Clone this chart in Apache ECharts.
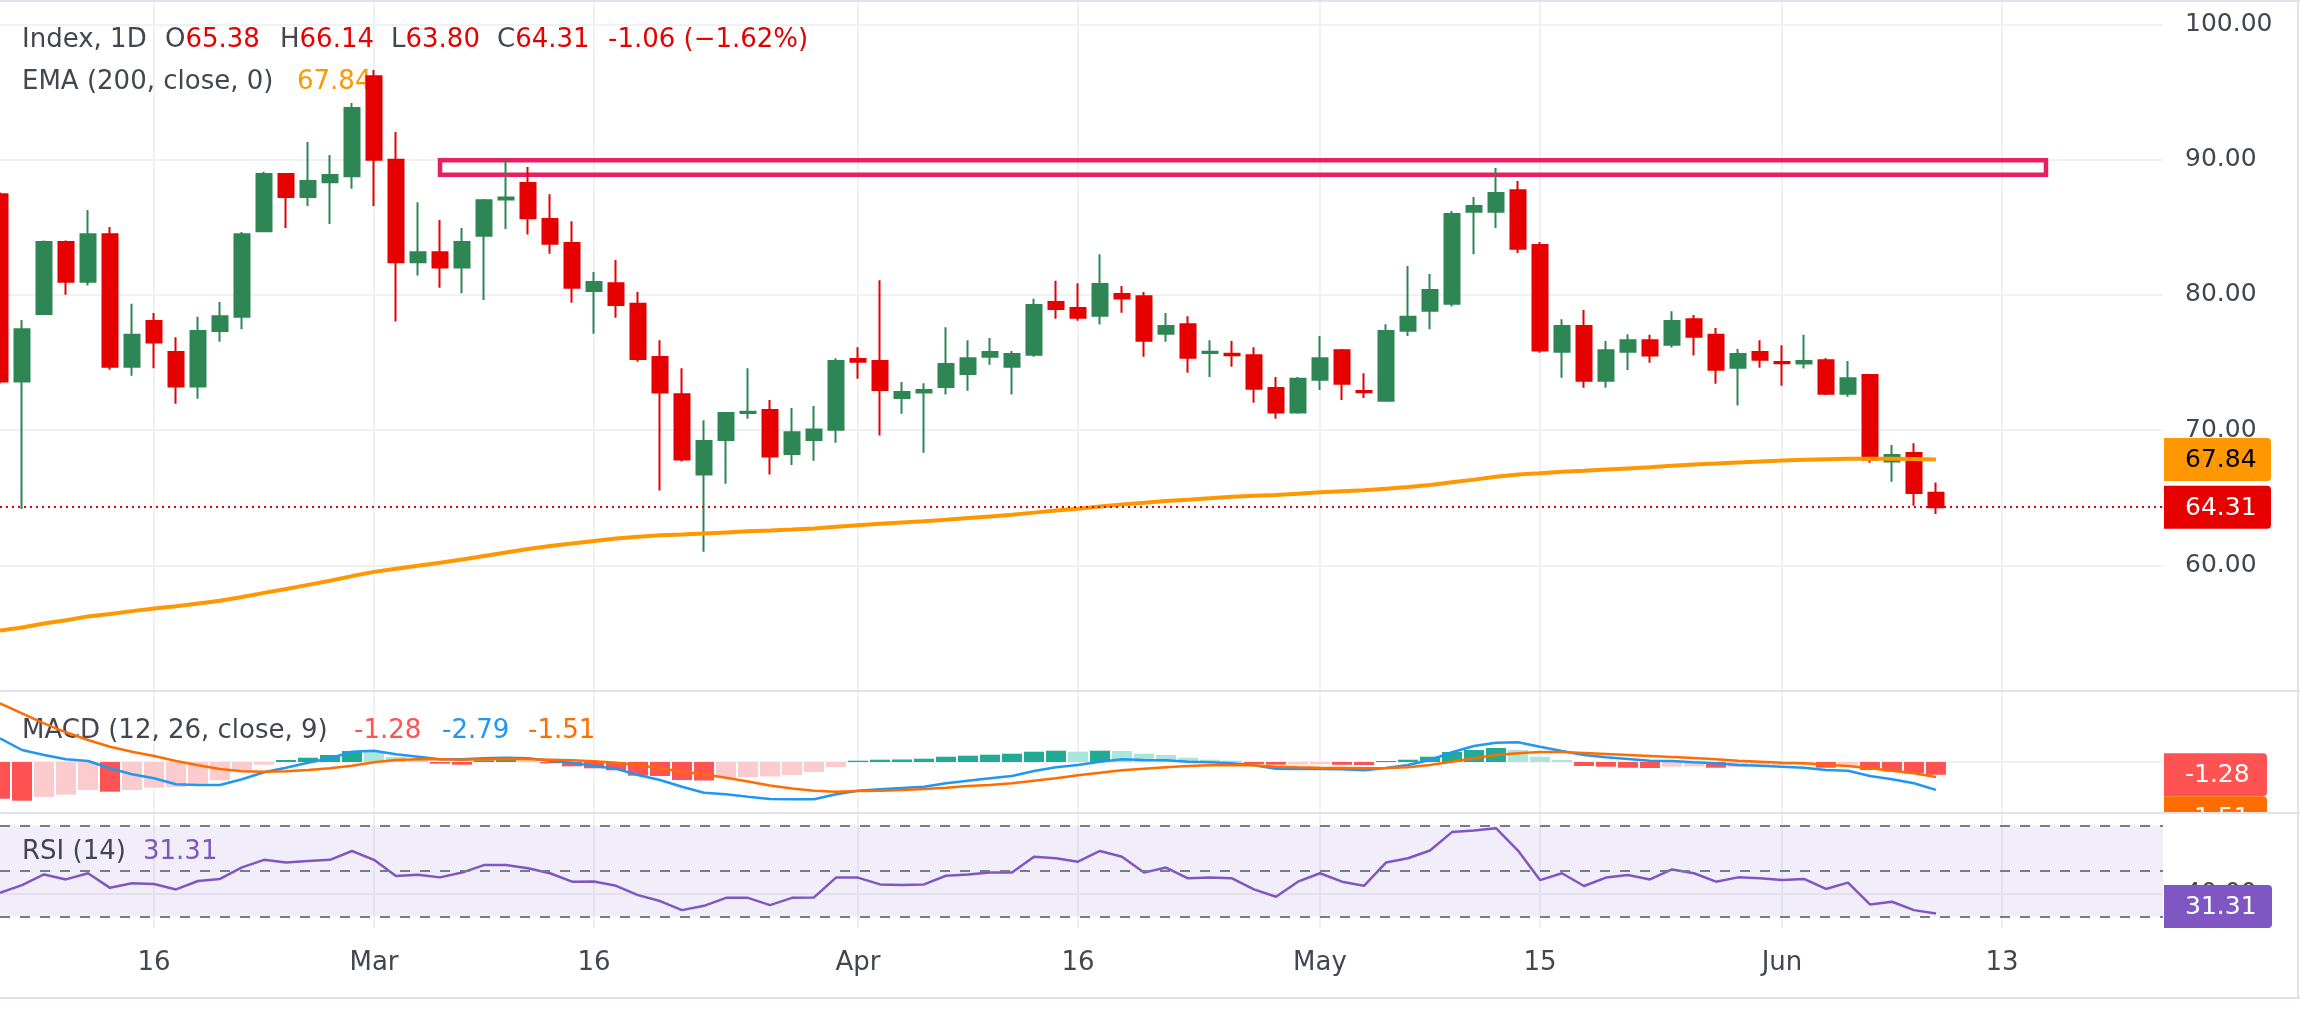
<!DOCTYPE html>
<html>
<head>
<meta charset="utf-8">
<script src="https://cdn.jsdelivr.net/npm/echarts@6/dist/echarts.min.js"></script>
<style>
  html, body { margin: 0; padding: 0; background: #fff; }
  #chart { width: 2300px; height: 1030px; }
</style>
</head>
<body>
<div id="chart"></div>
<script>
// daily candles, index 0 = first visible bar
const opens  = [87.45,73.6,78.6,83.92,80.98,84.49,74.7,78.07,75.78,73.23,77.33,78.38,84.71,88.93,87.23,88.33,88.78,96.17,90.0,82.42,
  83.16,82.02,84.37,87.05,88.27,85.62,83.83,80.3,80.87,79.34,75.41,72.66,66.73,69.27,71.28,71.5,68.25,69.27,70.03,75.27,
  75.12,72.38,72.78,73.2,74.16,75.44,74.7,75.58,79.48,79.03,78.46,80.07,79.9,77.13,77.84,75.7,75.65,75.55,73.12,71.31,
  73.74,75.92,72.9,72.18,77.36,78.83,79.34,86.15,86.15,87.74,83.69,75.8,77.7,73.65,75.8,76.65,76.31,78.21,77.05,74.62,
  75.78,75.05,74.93,75.18,72.69,74.08,67.69,68.31,65.38];
const highs  = [87.6,78.15,84.03,84.03,86.27,85.02,79.34,78.66,76.88,78.38,79.48,84.66,89.1,88.98,91.3,90.34,94.19,96.62,92.04,86.86,
  85.53,84.94,87.09,90.06,89.46,87.45,85.45,81.69,82.59,80.21,76.65,74.59,70.74,71.33,74.59,72.24,71.65,71.79,75.32,76.14,
  81.09,73.57,73.48,77.61,76.65,76.82,75.86,79.71,81.04,80.87,83.01,80.67,80.21,78.66,78.43,76.65,76.6,76.14,73.94,73.94,
  76.96,76.0,74.22,77.84,82.14,81.54,86.21,87.23,89.38,88.42,83.92,78.21,78.89,76.6,77.1,77.05,78.8,78.52,77.56,76.0,
  76.65,76.28,77.05,75.32,75.12,74.16,68.9,69.04,66.14];
const lows   = [73.4,64.18,78.55,80.02,80.7,74.47,74.02,74.59,71.96,72.32,76.54,77.47,84.66,84.94,86.58,85.25,87.85,86.58,78.04,81.43,
  80.53,80.13,79.62,84.88,84.46,83.04,79.42,77.13,78.32,75.07,65.54,67.69,61.01,66.05,70.85,66.73,67.43,67.74,69.07,73.8,
  69.61,71.22,68.34,72.64,72.92,74.84,72.64,75.44,78.24,78.1,77.81,78.69,75.44,76.54,74.25,73.94,74.7,72.04,70.85,71.22,
  72.98,72.24,72.38,72.18,76.96,77.47,79.14,83.01,84.94,83.1,75.72,73.88,73.14,73.14,74.45,74.98,76.11,75.52,73.43,71.82,
  74.62,73.29,74.56,72.61,72.47,67.6,66.19,64.41,63.8];
const closes = [73.6,77.47,83.92,80.98,84.49,74.7,77.05,76.48,73.23,77.33,78.43,84.49,88.93,87.23,88.42,88.87,93.82,90.0,82.42,83.16,
  82.02,83.92,87.0,87.2,85.67,83.78,80.53,80.95,79.25,75.27,72.78,67.83,69.21,71.28,71.36,68.05,69.86,70.06,75.12,75.07,
  72.98,72.83,72.98,74.9,75.32,75.78,75.63,79.25,78.97,78.32,80.81,79.73,76.62,77.7,75.35,75.8,75.55,73.06,71.31,73.8,
  75.32,73.43,72.8,77.33,78.38,80.36,85.98,86.58,87.54,83.41,75.89,77.7,73.65,75.92,76.65,75.52,78.07,76.91,74.47,75.63,
  75.21,74.95,75.12,72.69,73.85,67.83,68.17,65.37,64.31];

// EMA (200, close)
const ema200 = [55.2,55.42,55.71,55.96,56.24,56.42,56.63,56.83,56.99,57.19,57.4,57.67,57.98,58.27,58.57,58.87,59.22,59.53,59.76,59.99,
  60.21,60.45,60.71,60.97,61.22,61.44,61.63,61.82,62.0,62.13,62.23,62.29,62.36,62.45,62.54,62.59,62.66,62.74,62.86,62.98,
  63.08,63.18,63.28,63.39,63.51,63.63,63.75,63.91,64.06,64.2,64.36,64.52,64.64,64.77,64.87,64.98,65.08,65.16,65.22,65.31,
  65.41,65.49,65.56,65.68,65.8,65.95,66.15,66.35,66.56,66.73,66.82,66.93,67.0,67.09,67.18,67.26,67.37,67.47,67.54,67.62,
  67.69,67.76,67.82,67.86,67.9,67.9,67.89,67.87,67.84];

// MACD (12, 26, close, 9)
const macdLine = [2.37,1.2,0.7,0.27,0.1,-0.63,-1.23,-1.63,-2.23,-2.3,-2.3,-1.73,-1.03,-0.57,-0.07,0.37,1.03,1.13,0.77,0.53,
  0.27,0.27,0.37,0.43,0.37,0.13,-0.07,-0.4,-0.67,-1.3,-1.8,-2.47,-3.07,-3.23,-3.47,-3.7,-3.73,-3.73,-3.23,-2.87,
  -2.73,-2.6,-2.47,-2.13,-1.87,-1.63,-1.4,-0.9,-0.53,-0.3,0.03,0.27,0.2,0.17,0.03,-0.03,-0.13,-0.33,-0.67,-0.7,
  -0.7,-0.73,-0.83,-0.6,-0.3,0.2,0.97,1.6,1.93,1.97,1.53,1.1,0.7,0.47,0.3,0.13,0.1,-0.03,-0.13,-0.3,
  -0.37,-0.47,-0.57,-0.8,-0.87,-1.4,-1.73,-2.13,-2.79];
const signalLine = [5.87,4.87,3.87,2.97,2.2,1.53,1.03,0.6,0.1,-0.33,-0.7,-0.93,-0.97,-0.93,-0.8,-0.63,-0.37,-0.03,0.2,0.27,
  0.27,0.23,0.27,0.27,0.27,0.23,0.17,0.07,-0.07,-0.33,-0.6,-0.97,-1.23,-1.57,-1.95,-2.35,-2.65,-2.88,-2.97,-2.9,
  -2.87,-2.8,-2.7,-2.57,-2.4,-2.3,-2.13,-1.87,-1.63,-1.33,-1.07,-0.83,-0.67,-0.53,-0.4,-0.33,-0.3,-0.33,-0.47,-0.53,
  -0.57,-0.6,-0.63,-0.6,-0.53,-0.3,0.03,0.37,0.7,0.87,1.0,1.0,0.9,0.8,0.7,0.6,0.5,0.4,0.27,0.13,
  0.03,-0.07,-0.13,-0.27,-0.4,-0.63,-0.87,-1.13,-1.51];
const macdHist = [-3.67,-3.87,-3.5,-3.27,-2.8,-2.97,-2.8,-2.57,-2.5,-2.17,-1.83,-0.9,-0.27,0.2,0.43,0.7,1.1,1.0,0.5,0.2,
  -0.17,-0.27,0.17,0.2,0.1,-0.13,-0.43,-0.63,-0.83,-1.37,-1.4,-1.8,-1.85,-1.55,-1.5,-1.45,-1.3,-1.0,-0.5,0.13,
  0.23,0.25,0.33,0.53,0.63,0.73,0.83,1.03,1.13,1.03,1.13,1.1,0.83,0.7,0.43,0.23,0.13,-0.2,-0.27,-0.25,
  -0.22,-0.28,-0.3,0.1,0.23,0.53,1.0,1.2,1.4,1.2,0.53,0.2,-0.4,-0.47,-0.57,-0.6,-0.47,-0.45,-0.57,-0.5,
  -0.4,-0.3,-0.27,-0.57,-0.47,-0.8,-0.93,-1.13,-1.28];

// RSI (14)
const rsi14 = [40.4,43.8,48.5,46.3,49.0,42.6,44.6,44.3,41.9,45.6,46.5,51.6,54.9,53.7,54.4,54.9,58.8,54.9,47.8,48.4,
  47.2,49.3,52.6,52.6,51.2,49.0,45.3,45.4,43.5,39.4,36.8,32.8,34.7,38.2,38.2,35.0,38.2,38.4,47.1,47.1,
  44.1,43.8,44.1,47.9,48.5,49.3,49.3,56.3,55.6,54.1,58.8,56.3,49.3,51.5,46.8,47.1,46.8,41.9,38.7,45.3,
  49.0,45.3,43.5,53.7,55.6,59.0,67.1,67.8,68.8,59.0,46.0,49.0,43.4,47.1,48.2,46.3,50.7,49.0,45.3,47.2,
  46.8,46.0,46.5,42.1,44.9,35.3,36.5,32.8,31.31];

// axis ticks
const tickIdx = [7, 17, 27, 39, 49, 60, 70, 81, 91];
const tickLabels = ['16', 'Mar', '16', 'Apr', '16', 'May', '15', 'Jun', '13'];
const priceTicks = [60, 70, 80, 90, 100];
const rsiLevels = [70, 50, 30];
// resistance zone drawn on the chart: [fromBar, toBar, low, high]
const zoneBox = [20, 93, 88.88, 89.95];

const FONT = 'DejaVu Sans';
const TXT = '#434651';
const GRID = '#eff1f4';
const SEP = '#e0e3eb';
const UP = '#2d8653';
const DOWN = '#e60000';
const X_MAX = 98.32;
const PLOT_W = 2163;

const chart = echarts.init(document.getElementById('chart'));

const candles = closes.map((c, i) => [i, opens[i], c, lows[i], highs[i]]);
const xy = arr => arr.map((v, i) => [i, v]);
const histColor = macdHist.map((h, i) => {
  const p = i ? macdHist[i - 1] : 0;
  if (h >= 0) return h >= p ? '#22ab94' : '#ace5dc';
  return h < p ? '#ff5252' : '#fccbcd';
});

const xAxisFor = (gi, showLabel) => ({
  type: 'value', gridIndex: gi, min: 0, max: X_MAX,
  axisLine: { show: false },
  axisTick: { show: false, customValues: tickIdx },
  splitLine: { show: true, lineStyle: { color: GRID, width: 2 } },
  axisLabel: {
    show: showLabel, customValues: tickIdx,
    formatter: v => tickLabels[tickIdx.indexOf(v)] || '',
    fontFamily: FONT, fontSize: 26, color: TXT, margin: 22
  }
})

const option = {
  animation: false,
  backgroundColor: '#ffffff',
  grid: [
    { left: 0, top: 0, width: PLOT_W, height: 690 },
    { left: 0, top: 691, width: PLOT_W, height: 121 },
    { left: 0, top: 812, width: PLOT_W, height: 116 }
  ],
  xAxis: [xAxisFor(0, false), xAxisFor(1, false), xAxisFor(2, true)],
  yAxis: [
    {
      type: 'value', gridIndex: 0, position: 'right', min: 50.8, max: 101.8,
      axisLine: { show: false },
      axisTick: { show: false, customValues: priceTicks },
      splitLine: { lineStyle: { color: GRID, width: 2 } },
      axisLabel: {
        customValues: priceTicks, formatter: v => v.toFixed(2),
        fontFamily: FONT, fontSize: 25, color: TXT, align: 'left', margin: 22
      }
    },
    {
      type: 'value', gridIndex: 1, position: 'right', min: -5.0, max: 7.1,
      axisLine: { show: false },
      axisTick: { show: false, customValues: [0] },
      splitLine: { lineStyle: { color: GRID, width: 2 } },
      axisLabel: { show: false, customValues: [0] }
    },
    {
      type: 'value', gridIndex: 2, position: 'right', min: 24.95, max: 75.93,
      axisLine: { show: false },
      axisTick: { show: false, customValues: [40] },
      splitLine: { lineStyle: { color: GRID, width: 2 } },
      axisLabel: {
        customValues: [40], formatter: v => v.toFixed(2),
        fontFamily: FONT, fontSize: 25, color: TXT, align: 'left', margin: 22
      }
    }
  ],
  series: [
    {
      type: 'candlestick', xAxisIndex: 0, yAxisIndex: 0,
      data: candles, barWidth: 16,
      itemStyle: { color: UP, color0: DOWN, borderColor: UP, borderColor0: DOWN, borderWidth: 2 },
      markLine: {
        silent: true, symbol: 'none', label: { show: false },
        lineStyle: { color: DOWN, type: [2, 4], width: 2 },
        data: [{ yAxis: closes[closes.length - 1] }]
      },
      markArea: {
        silent: true, label: { show: false },
        itemStyle: { color: 'rgba(0,0,0,0)', borderColor: '#e91e63', borderWidth: 4.5 },
        data: [[{ coord: [zoneBox[0], zoneBox[3]] }, { coord: [zoneBox[1], zoneBox[2]] }]]
      }
    },
    {
      type: 'line', xAxisIndex: 0, yAxisIndex: 0, data: xy(ema200),
      showSymbol: false, z: 3, lineStyle: { color: '#ff9800', width: 4 }
    },
    {
      type: 'bar', xAxisIndex: 1, yAxisIndex: 1, barWidth: 20,
      data: macdHist.map((h, i) => ({ value: [i, h], itemStyle: { color: histColor[i] } }))
    },
    {
      type: 'line', xAxisIndex: 1, yAxisIndex: 1, data: xy(macdLine),
      showSymbol: false, lineStyle: { color: '#2196f3', width: 2.5 }
    },
    {
      type: 'line', xAxisIndex: 1, yAxisIndex: 1, data: xy(signalLine),
      showSymbol: false, lineStyle: { color: '#ff6d00', width: 2.5 }
    },
    {
      type: 'line', xAxisIndex: 2, yAxisIndex: 2, data: xy(rsi14),
      showSymbol: false, lineStyle: { color: '#7e57c2', width: 2.5 },
      markArea: {
        silent: true, itemStyle: { color: 'rgba(126,87,194,0.1)' },
        data: [[{ yAxis: rsiLevels[2] }, { yAxis: rsiLevels[0] }]]
      },
      markLine: {
        silent: true, symbol: 'none', label: { show: false },
        lineStyle: { color: '#787b86', type: [10, 10], width: 2 },
        data: rsiLevels.map(v => ({ yAxis: v }))
      }
    }
  ]
}

chart.setOption(option);

// legends, value tags and pane separators
const py = (axis, v) => chart.convertToPixel({ yAxisIndex: axis }, v);
const label = (x, y, text, fill, size) => ({
  type: 'text', z: 1,
  style: { x, y, text, fill, fontFamily: FONT, fontSize: size, verticalAlign: 'middle', align: 'left' }
})
const ohlc = (x, letter, value) => ({
  type: 'text', z: 1,
  style: {
    x, y: 40, text: '{g|' + letter + '}{r|' + value + '}', verticalAlign: 'middle',
    rich: { g: { fill: TXT, fontFamily: FONT, fontSize: 26 }, r: { fill: DOWN, fontFamily: FONT, fontSize: 26 } }
  }
})
const TAG_H = 43;
const tag = (top, w, fill, text, color) => ({
  type: 'group', z: 100,
  children: [
    { type: 'rect', z: 100, shape: { x: PLOT_W + 1, y: top, width: w, height: TAG_H, r: [0, 4, 4, 0] }, style: { fill } },
    { type: 'text', z: 101, style: { x: PLOT_W + 22, y: top + TAG_H / 2 + 1, text, fill: color, fontFamily: FONT, fontSize: 25, verticalAlign: 'middle', align: 'left' } }
  ]
})
const hline = (y) => ({ type: 'rect', z: 110, shape: { x: 0, y, width: 2300, height: 2 }, style: { fill: SEP } });

const last = closes.length - 1;
const emaTop = py(0, ema200[last]) - TAG_H / 2;
const priceTop = py(0, closes[last]) - TAG_H / 2;
const histTop = py(1, macdHist[last]) - TAG_H / 2;
const sigTop = histTop + TAG_H;
const rsiTop = Math.min(py(2, rsi14[last]) - TAG_H / 2, 928 - TAG_H);

chart.setOption({
  graphic: [
    label(22, 40, 'Index, 1D', TXT, 26),
    ohlc(165, 'O', '65.38'),
    ohlc(280, 'H', '66.14'),
    ohlc(391, 'L', '63.80'),
    ohlc(497, 'C', '64.31'),
    label(608, 40, '-1.06 (\u22121.62%)', DOWN, 26),
    label(22, 82, 'EMA (200, close, 0)', TXT, 26),
    label(297, 82, '67.84', '#ff9800', 26),

    label(22, 731, 'MACD (12, 26, close, 9)', TXT, 26),
    label(354, 731, '-1.28', '#ff5252', 26),
    label(442, 731, '-2.79', '#2196f3', 26),
    label(528, 731, '-1.51', '#ff6d00', 26),

    label(22, 852, 'RSI (14)', TXT, 26),
    label(143, 852, '31.31', '#7e57c2', 26),

    tag(emaTop, 107, '#ff9800', '67.84', '#000000'),
    tag(priceTop, 107, DOWN, '64.31', '#ffffff'),
    tag(histTop, 103, '#ff5252', '-1.28', '#ffffff'),
    tag(sigTop, 103, '#ff6d00', '-1.51', '#ffffff'),
    { type: 'rect', z: 105, shape: { x: PLOT_W + 1, y: 813, width: 134, height: 40 }, style: { fill: '#ffffff' } },
    tag(rsiTop, 108, '#7e57c2', '31.31', '#ffffff'),

    hline(0),
    hline(690),
    hline(812),
    hline(997),
    { type: 'rect', z: 110, shape: { x: 2297, y: 0, width: 2, height: 999 }, style: { fill: SEP } }
  ]
});

window.addEventListener('resize', () => chart.resize());
</script>
</body>
</html>
